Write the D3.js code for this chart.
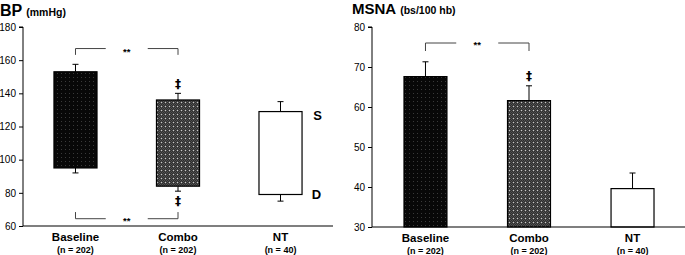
<!DOCTYPE html>
<html><head><meta charset="utf-8">
<script src="https://cdn.jsdelivr.net/npm/d3@7"></script>
<style>body{margin:0;background:#fff}svg{display:block;font-family:"Liberation Sans",Arial,sans-serif}text{fill:#000}</style>
</head><body>
<svg id="c" width="685" height="255"></svg>
<script>
const categories = ["Baseline", "Combo", "NT"];
const nLabels = ["(n = 202)", "(n = 202)", "(n = 40)"];
const bpSys = [153, 136, 129];
const bpSysErr = [4.5, 4, 6];
const bpDia = [95, 84, 79];
const bpDiaErr = [3, 3, 4];
const msna = [67.6, 61.6, 39.6];
const msnaErr = [3.7, 3.7, 3.9];
const bpTicks = [60, 80, 100, 120, 140, 160, 180];
const msnaTicks = [30, 40, 50, 60, 70, 80];
const fills = ["url(#pBase)", "url(#pCombo)", "#fff"];

const svg = d3.select("#c");
const defs = svg.append("defs");
const pb = defs.append("pattern").attr("id","pBase").attr("patternUnits","userSpaceOnUse").attr("width",4).attr("height",4);
pb.append("rect").attr("width",4).attr("height",4).attr("fill","#080808");
pb.append("rect").attr("x",1).attr("y",1).attr("width",1).attr("height",1).attr("fill","#3a3a3a");
const pc = defs.append("pattern").attr("id","pCombo").attr("patternUnits","userSpaceOnUse").attr("width",4).attr("height",4);
pc.append("rect").attr("width",4).attr("height",4).attr("fill","#2e2e2e");
[[0,0],[2,0],[1,1],[3,1],[0,2],[2,2],[1,3],[3,3]].forEach(([x,y])=>pc.append("rect").attr("x",x).attr("y",y).attr("width",1).attr("height",1).attr("fill","#505050"));
pc.append("rect").attr("x",1).attr("y",2).attr("width",1).attr("height",1).attr("fill","#c8c8c8");

function axisY(g, scale, ticks, x){
  const a = d3.axisLeft(scale).tickValues(ticks).tickSize(4).tickPadding(3).tickFormat(d3.format("d"));
  const gg = g.append("g").attr("transform",`translate(${x},0)`).call(a);
  gg.select(".domain").attr("stroke","#000").attr("d",`M-4,${scale(ticks[ticks.length-1])}H0V${scale(ticks[0])}`);
  gg.selectAll("text").attr("font-size",10).attr("fill","#000").attr("font-family","Liberation Sans, Arial, sans-serif");
  gg.selectAll("line").attr("stroke","#000");
}
function xLabels(g, x, y0){
  categories.forEach((c,i)=>{
    const cx = x(c)+x.bandwidth()/2;
    g.append("text").attr("x",cx).attr("y",y0+15).attr("text-anchor","middle").attr("font-size",11.5).attr("font-weight","bold").text(c);
    g.append("text").attr("x",cx).attr("y",y0+27).attr("text-anchor","middle").attr("font-size",9).attr("font-weight","bold").text(nLabels[i]);
  });
}
function bracket(g, x1, x2, y, yEnd, gap, label, ly){
  const m = (x1+x2)/2;
  g.append("path").attr("d",`M${x1},${yEnd}V${y}H${m-gap}M${m+gap},${y}H${x2}V${yEnd}`).attr("fill","none").attr("stroke","#444").attr("stroke-width",1);
  g.append("text").attr("x",m).attr("y",ly).attr("text-anchor","middle").attr("font-size",9.5).attr("font-weight","bold").text(label);
}
function dagger(g, x, y){
  g.append("text").attr("x",x).attr("y",y).attr("text-anchor","middle").attr("font-size",12).attr("font-weight","bold")
    .attr("font-family","DejaVu Sans, sans-serif").attr("fill","#000").text("\u2021");
}

// ---- BP panel ----
const L = svg.append("g");
const xL = d3.scaleBand().domain(categories).range([23,333]).paddingInner(0.58).paddingOuter(0.302);
const yL = d3.scaleLinear().domain([60,180]).range([226,27]);
L.append("text").attr("x",0).attr("y",16).attr("font-weight","bold").attr("font-size",16).text("BP")
  .append("tspan").attr("font-size",10.5).attr("dx",4).text("(mmHg)");
axisY(L, yL, bpTicks, 23);
categories.forEach((c,i)=>{
  const bx = xL(c), bw = xL.bandwidth(), cx = bx+bw/2;
  L.append("path").attr("d",`M${cx},${yL(bpSys[i])}V${yL(bpSys[i]+bpSysErr[i])}M${cx-3},${yL(bpSys[i]+bpSysErr[i])}H${cx+3}`).attr("stroke","#000").attr("fill","none");
  L.append("path").attr("d",`M${cx},${yL(bpDia[i])}V${yL(bpDia[i]-bpDiaErr[i])}M${cx-3},${yL(bpDia[i]-bpDiaErr[i])}H${cx+3}`).attr("stroke","#000").attr("fill","none");
  L.append("rect").attr("x",bx).attr("y",yL(bpSys[i])).attr("width",bw).attr("height",yL(bpDia[i])-yL(bpSys[i]))
    .attr("fill",fills[i]).attr("stroke","#000").attr("stroke-width",1.2);
});
L.append("line").attr("x1",23).attr("x2",333).attr("y1",yL(60)).attr("y2",yL(60)).attr("stroke","#000").attr("stroke-width",1.2);
xLabels(L, xL, yL(60));
{
  const c0 = xL("Baseline")+xL.bandwidth()/2, c1 = xL("Combo")+xL.bandwidth()/2, c2 = xL("NT")+xL.bandwidth()/2;
  bracket(L, c0, c1, yL(167), yL(163.2), 21, "**", yL(167)+6);
  bracket(L, c0, c1, yL(64.4), yL(68.4), 21, "**", yL(64.4)+5);
  dagger(L, c1, yL(146)+5);
  dagger(L, c1, yL(75.6)+5);
  L.append("text").attr("x",c2+37).attr("y",yL(bpSys[2])+8).attr("text-anchor","middle").attr("font-size",13).attr("font-weight","bold").text("S");
  L.append("text").attr("x",c2+36).attr("y",yL(bpDia[2])+5).attr("text-anchor","middle").attr("font-size",13).attr("font-weight","bold").text("D");
}

// ---- MSNA panel ----
const R = svg.append("g");
const xR = d3.scaleBand().domain(categories).range([372,686]).paddingInner(0.585).paddingOuter(0.309);
const yR = d3.scaleLinear().domain([30,80]).range([227,27]);
R.append("text").attr("x",352).attr("y",14).attr("font-weight","bold").attr("font-size",15).text("MSNA")
  .append("tspan").attr("font-size",10.5).attr("dx",4).text("(bs/100 hb)");
axisY(R, yR, msnaTicks, 372);
categories.forEach((c,i)=>{
  const bx = xR(c), bw = xR.bandwidth(), cx = bx+bw/2;
  R.append("path").attr("d",`M${cx},${yR(msna[i])}V${yR(msna[i]+msnaErr[i])}M${cx-3},${yR(msna[i]+msnaErr[i])}H${cx+3}`).attr("stroke","#000").attr("fill","none");
  R.append("rect").attr("x",bx).attr("y",yR(msna[i])).attr("width",bw).attr("height",yR(30)-yR(msna[i]))
    .attr("fill",fills[i]).attr("stroke","#000").attr("stroke-width",1.2);
});
R.append("line").attr("x1",372).attr("x2",685).attr("y1",yR(30)).attr("y2",yR(30)).attr("stroke","#000").attr("stroke-width",1.2);
xLabels(R, xR, yR(30));
{
  const c0 = xR("Baseline")+xR.bandwidth()/2, c1 = xR("Combo")+xR.bandwidth()/2;
  bracket(R, c0, c1, yR(76), yR(74), 21, "**", yR(76)+5);
  dagger(R, c1, yR(68)+5);
}
</script>
</body></html>
